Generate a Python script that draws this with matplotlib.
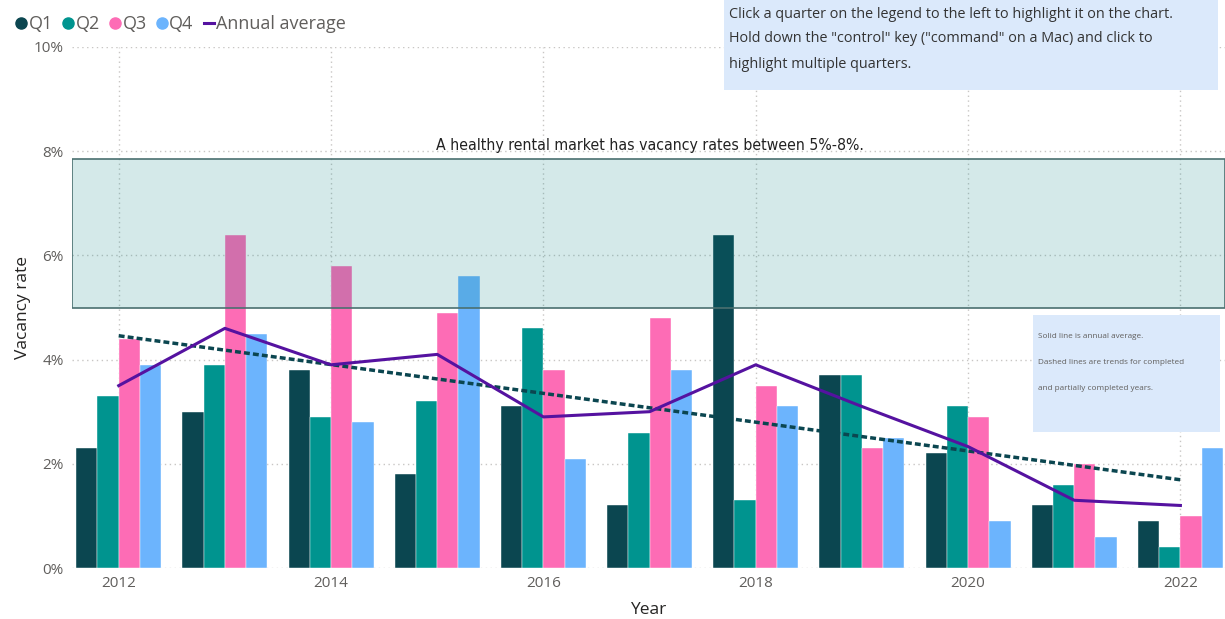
import numpy as np
import matplotlib
matplotlib.use("Agg")
import matplotlib.pyplot as plt
from matplotlib.lines import Line2D
from matplotlib.patches import Rectangle

plt.rcParams['font.family'] = ['Open Sans', 'DejaVu Sans']

# data (vacancy rate, %)
years = [2012, 2013, 2014, 2015, 2016, 2017, 2018, 2019, 2020, 2021, 2022]
q1 = [2.3, 3.0, 3.8, 1.8, 3.1, 1.2, 6.4, 3.7, 2.2, 1.2, 0.9]
q2 = [3.3, 3.9, 2.9, 3.2, 4.6, 2.6, 1.3, 3.7, 3.1, 1.6, 0.4]
q3 = [4.4, 6.4, 5.8, 4.9, 3.8, 4.8, 3.5, 2.3, 2.9, 2.0, 1.0]
q4 = [3.9, 4.5, 2.8, 5.6, 2.1, 3.8, 3.1, 2.5, 0.9, 0.6, 2.3]
annual_avg = [3.5, 4.6, 3.9, 4.1, 2.9, 3.0, 3.9, 3.1, 2.33, 1.3, 1.2]
quarters = ['Q1', 'Q2', 'Q3', 'Q4']
healthy_low, healthy_high = 5.0, 7.85

colors = ['#0b4650', '#00948f', '#fd6cb5', '#6cb4fd']
avg_color = '#5512a0'
trend_color = '#0b4650'
tick_color = '#605e5c'

fig = plt.figure(figsize=(12.25, 6.19), dpi=100)
ax = fig.add_axes([72 / 1225, 51 / 619, 1 - 72 / 1225, 521 / 619])

x = np.array(years, dtype=float)
w = 0.2
for i, vals in enumerate([q1, q2, q3, q4]):
    ax.bar(x + (i - 1.5) * w, vals, width=w, color=colors[i], zorder=2,
           edgecolor='white', linewidth=0.3)

# healthy band
ax.axhspan(healthy_low, healthy_high, facecolor=(0.0, 0.5, 0.5, 0.17),
           edgecolor='#4a7070', linewidth=1.2, zorder=3)
ax.text(2017, healthy_high + 0.12, 'A healthy rental market has vacancy rates between 5%-8%.',
        ha='center', va='bottom', fontsize=11.3, color='#222222', zorder=5,
        family=['DejaVu Sans'], fontstretch='condensed')

# annual average and trend
ax.plot(x, annual_avg, color=avg_color, linewidth=2.2, zorder=5)
coef = np.polyfit(x, annual_avg, 1)
ax.plot(x, np.polyval(coef, x), color=trend_color, linewidth=2.5,
        dashes=(1.7, 0.9), zorder=4)

ax.set_xlim(2011.56, 2022.42)
ax.set_ylim(0, 10)
ax.set_yticks(range(0, 11, 2))
ax.set_yticklabels([f'{v}%' for v in range(0, 11, 2)])
ax.set_xticks(range(2012, 2023, 2))
ax.tick_params(length=0, labelsize=11, labelcolor=tick_color, pad=6)
for s in ax.spines.values():
    s.set_visible(False)
ax.grid(True, color='#c8c6c4', linestyle=(0, (1, 2.5)), linewidth=1, zorder=0)
ax.set_axisbelow(True)
ax.set_xlabel('Year', fontsize=12.5, color='#252423', labelpad=8)
ax.set_ylabel('Vacancy rate', fontsize=12.5, color='#252423', labelpad=2)

# legend
handles = [Line2D([], [], marker='o', linestyle='', color=c, markersize=8) for c in colors]
handles.append(Line2D([], [], color=avg_color, linewidth=2.2))
fig.legend(handles, quarters + ['Annual average'], loc='upper left',
           bbox_to_anchor=(0.0, 1.002), ncol=5, frameon=False, fontsize=13,
           labelcolor=tick_color, handlelength=0.55, handletextpad=0.15,
           columnspacing=0.55)

# info boxes
H = 619
fig.add_artist(Rectangle((724 / 1225, 1 - 90 / H), 494 / 1225, 90 / H,
                         transform=fig.transFigure, facecolor='#dbe9fb',
                         edgecolor='none', zorder=6))
info = ['Click a quarter on the legend to the left to highlight it on the chart.',
        'Hold down the "control" key ("command" on a Mac) and click to',
        'highlight multiple quarters.']
for k, line in enumerate(info):
    fig.text(729 / 1225, 1 - (14 + 25 * k) / H, line, fontsize=10.4,
             color='#333333', va='center', zorder=7)

fig.add_artist(Rectangle((1033 / 1225, 1 - 432 / H), 187 / 1225, 117 / H,
                         transform=fig.transFigure, facecolor='#dbe9fb',
                         edgecolor='none', zorder=6))
note = ['Solid line is annual average.',
        'Dashed lines are trends for completed',
        'and partially completed years.']
for k, line in enumerate(note):
    fig.text(1038 / 1225, 1 - (337 + 26 * k) / H, line, fontsize=5.9,
             color='#605e5c', va='center', zorder=7)

fig.savefig('out.png', dpi=100)
